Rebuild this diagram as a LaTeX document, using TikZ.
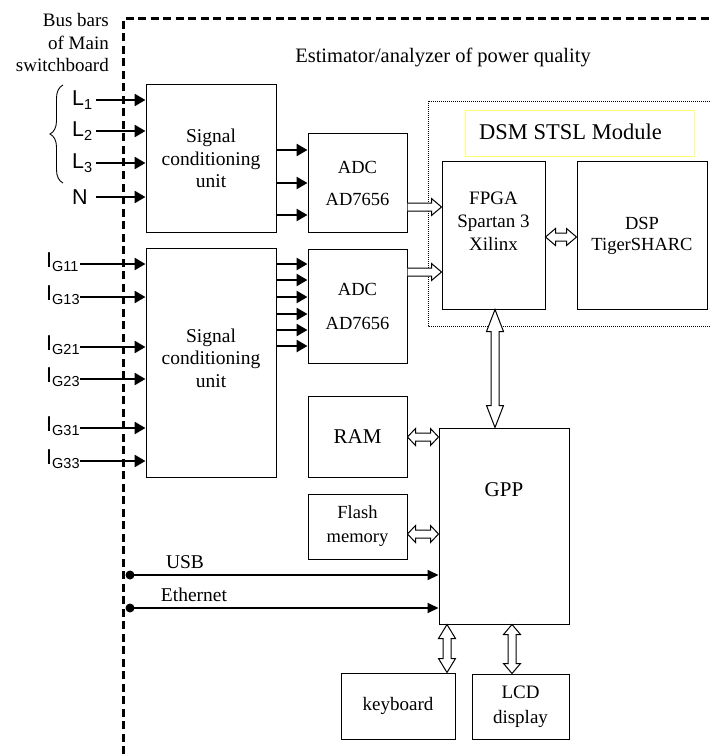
\documentclass[tikz,border=0pt]{standalone}
\usepackage{fontspec}
\setmainfont{Liberation Serif}
\newfontfamily\arialf{Liberation Sans}
\usetikzlibrary{calc,arrows.meta,decorations.pathreplacing}
\definecolor{ylw}{RGB}{255,255,110}
% hollow single-headed horizontal arrow: #1 start, #2 tip, #3 head length
\newcommand\hArrOne[3]{\draw[hollow] let \p1=#1, \p2=#2 in
  (\x1,\y1+4pt) -- (\x2-#3pt,\y1+4pt) -- (\x2-#3pt,\y1+8.5pt) -- (\x2,\y1)
  -- (\x2-#3pt,\y1-8.5pt) -- (\x2-#3pt,\y1-4pt) -- (\x1,\y1-4pt);}
% hollow double-headed horizontal arrow
\newcommand\hArrTwo[3]{\draw[hollow] let \p1=#1, \p2=#2 in
  (\x1,\y1) -- (\x1+#3pt,\y1+8.5pt) -- (\x1+#3pt,\y1+4pt) -- (\x2-#3pt,\y1+4pt)
  -- (\x2-#3pt,\y1+8.5pt) -- (\x2,\y1) -- (\x2-#3pt,\y1-8.5pt) -- (\x2-#3pt,\y1-4pt)
  -- (\x1+#3pt,\y1-4pt) -- (\x1+#3pt,\y1-8.5pt) -- cycle;}
% hollow double-headed vertical arrow: #1 top point, #2 bottom point
\newcommand\vArrTwo[3]{\draw[hollow] let \p1=#1, \p2=#2 in
  (\x1,\y1) -- (\x1+8.5pt,\y1-#3pt) -- (\x1+4pt,\y1-#3pt) -- (\x1+4pt,\y2+#3pt)
  -- (\x1+8.5pt,\y2+#3pt) -- (\x1,\y2) -- (\x1-8.5pt,\y2+#3pt) -- (\x1-4pt,\y2+#3pt)
  -- (\x1-4pt,\y1-#3pt) -- (\x1-8.5pt,\y1-#3pt) -- cycle;}
\newcommand\sbs[1]{\raisebox{-4.5pt}{\fontsize{14.5}{14.5}\selectfont #1}}
\begin{document}
\begin{tikzpicture}[x=1pt,y=-1pt,
  box/.style={draw, line width=1pt, inner sep=0pt, align=center,
    font=\fontsize{19.5}{22.5}\selectfont},
  hollow/.style={draw, fill=white, line width=1pt, line join=miter},
  thk/.style={line width=2.6pt, -{Triangle[length=11pt,width=12pt]}},
  thn/.style={line width=2pt, -{Triangle[length=11pt,width=10pt]}},
  inlbl/.style={anchor=west, inner sep=0pt, font=\arialf\fontsize{21.5}{21.5}\selectfont},
  txt/.style={inner sep=0pt, align=center, font=\fontsize{19.5}{22.5}\selectfont}]
\useasboundingbox (0,0) rectangle (710,754);

% boundary
\draw[line width=3pt, dash pattern=on 8pt off 4.5pt] (123,754) -- (123,19) -- (710,19);
\node[txt, anchor=east, align=right, font=\fontsize{19}{22.5}\selectfont] (bus) at (109,43) {Bus bars\\of Main\\switchboard};
\node[txt, font=\fontsize{20.5}{22}\selectfont] (title) at (443,57) {Estimator/analyzer of power quality};

% DSM module frame
\draw[line width=0.8pt, dash pattern=on 1pt off 1pt] (710,101) -- (428,101) -- (428,326) -- (710,326);
\node[draw=ylw, line width=1pt, minimum width=229pt, minimum height=46pt, inner sep=0pt] (dsm) at (579.5,134) {};
\node[txt, font=\fontsize{22.5}{24}\selectfont] (dsmt) at (570.5,132) {DSM STSL Module};

% blocks
\node[box, minimum width=130pt, minimum height=147pt] (scu1) at (211,158.5) {Signal\\conditioning\\unit};
\node[box, minimum width=130pt, minimum height=229pt] (scu2) at (211,362.5) {};
\node[txt] (scu2t) at (211,358) {Signal\\conditioning\\unit};
\node[box, minimum width=99pt, minimum height=98pt, font=\fontsize{18.5}{32}\selectfont] (adc1) at (357.5,183) {ADC\\AD7656};
\node[box, minimum width=99pt, minimum height=114pt, font=\fontsize{18.5}{34}\selectfont] (adc2) at (357.5,306) {ADC\\AD7656};
\node[box, minimum width=103pt, minimum height=147pt] (fpga) at (493.5,235.5) {};
\node[txt, font=\fontsize{19}{23}\selectfont] (fpgat) at (493.5,221) {FPGA\\Spartan 3\\Xilinx};
\node[box, minimum width=130pt, minimum height=147pt, font=\fontsize{18.5}{21}\selectfont] (dsp) at (642,235.5) {DSP\\TigerSHARC};
\node[box, minimum width=99pt, minimum height=81pt, font=\fontsize{21}{22}\selectfont] (ram) at (357.5,436.5) {RAM};
\node[box, minimum width=99pt, minimum height=65pt, font=\fontsize{18.5}{24}\selectfont] (flash) at (357.5,526.5) {Flash\\memory};
\node[box, minimum width=130pt, minimum height=196pt] (gpp) at (504,526) {};
\node[txt, font=\fontsize{21}{22}\selectfont] (gppt) at (504,490) {GPP};
\node[box, minimum width=114pt, minimum height=66pt, font=\fontsize{19}{22}\selectfont] (kbd) at (398,706) {keyboard};
\node[box, minimum width=97pt, minimum height=65pt, font=\fontsize{19}{25}\selectfont] (lcd) at (520.5,706.5) {LCD\\display};

% voltage inputs
\node[inlbl] (L1) at (72,100) {L\sbs{1}};
\node[inlbl] (L2) at (72,131) {L\sbs{2}};
\node[inlbl] (L3) at (72,163) {L\sbs{3}};
\node[inlbl] (N) at (72,197) {N};
\coordinate (iL1) at (96,100);
\coordinate (iL2) at (96,131);
\coordinate (iL3) at (96,163);
\coordinate (iN) at (96,197);
\foreach \c in {iL1,iL2,iL3,iN} \draw[thk] (\c) -- (\c -| scu1.west);
\draw[line width=0.9pt, decorate, decoration={brace, amplitude=13pt}] (63,183) -- (63,85);

% current inputs
\foreach \n/\y in {11/264,13/297,21/347,23/379,31/428,33/461}{
  \node[inlbl] (IG\n) at (46,\y-2) {I\sbs{G\n}};
  \coordinate (iG\n) at (80,\y);
  \draw[thk] (iG\n) -- (iG\n -| scu2.west);
}

% SCU -> ADC
\foreach \y in {150,183,215} \draw[thk] (scu1.east |- 0,\y) -- (adc1.west |- 0,\y);
\foreach \y in {264,280,297,314,330,346} \draw[thk] (scu2.east |- 0,\y) -- (adc2.west |- 0,\y);

% hollow bus arrows
\hArrOne{(adc1.east |- 0,207)}{(fpga.west |- 0,207)}{10}
\hArrOne{(adc2.east |- 0,272)}{(fpga.west |- 0,272)}{10}
\hArrTwo{(fpga.east |- 0,237)}{(dsp.west |- 0,237)}{10}
\hArrTwo{(ram.east |- 0,437)}{(gpp.west |- 0,437)}{8}
\hArrTwo{(flash.east |- 0,534)}{(gpp.west |- 0,534)}{8}
\vArrTwo{(fpga.south -| 495,0)}{(gpp.north -| 495,0)}{22}
\vArrTwo{(gpp.south -| 447,0)}{(kbd.north -| 447,0)}{14}
\vArrTwo{(gpp.south -| 512,0)}{(lcd.north -| 512,0)}{10}

% USB / Ethernet
\node[circle, fill, inner sep=0pt, minimum size=9pt] (usb) at (130,575) {};
\node[circle, fill, inner sep=0pt, minimum size=9pt] (eth) at (130,608) {};
\draw[thn] (usb.center) -- (usb.center -| gpp.west);
\draw[thn] (eth.center) -- (eth.center -| gpp.west);
\node[txt] (usbl) at (185,562) {USB};
\node[txt] (ethl) at (194,595) {Ethernet};
\end{tikzpicture}
\end{document}
